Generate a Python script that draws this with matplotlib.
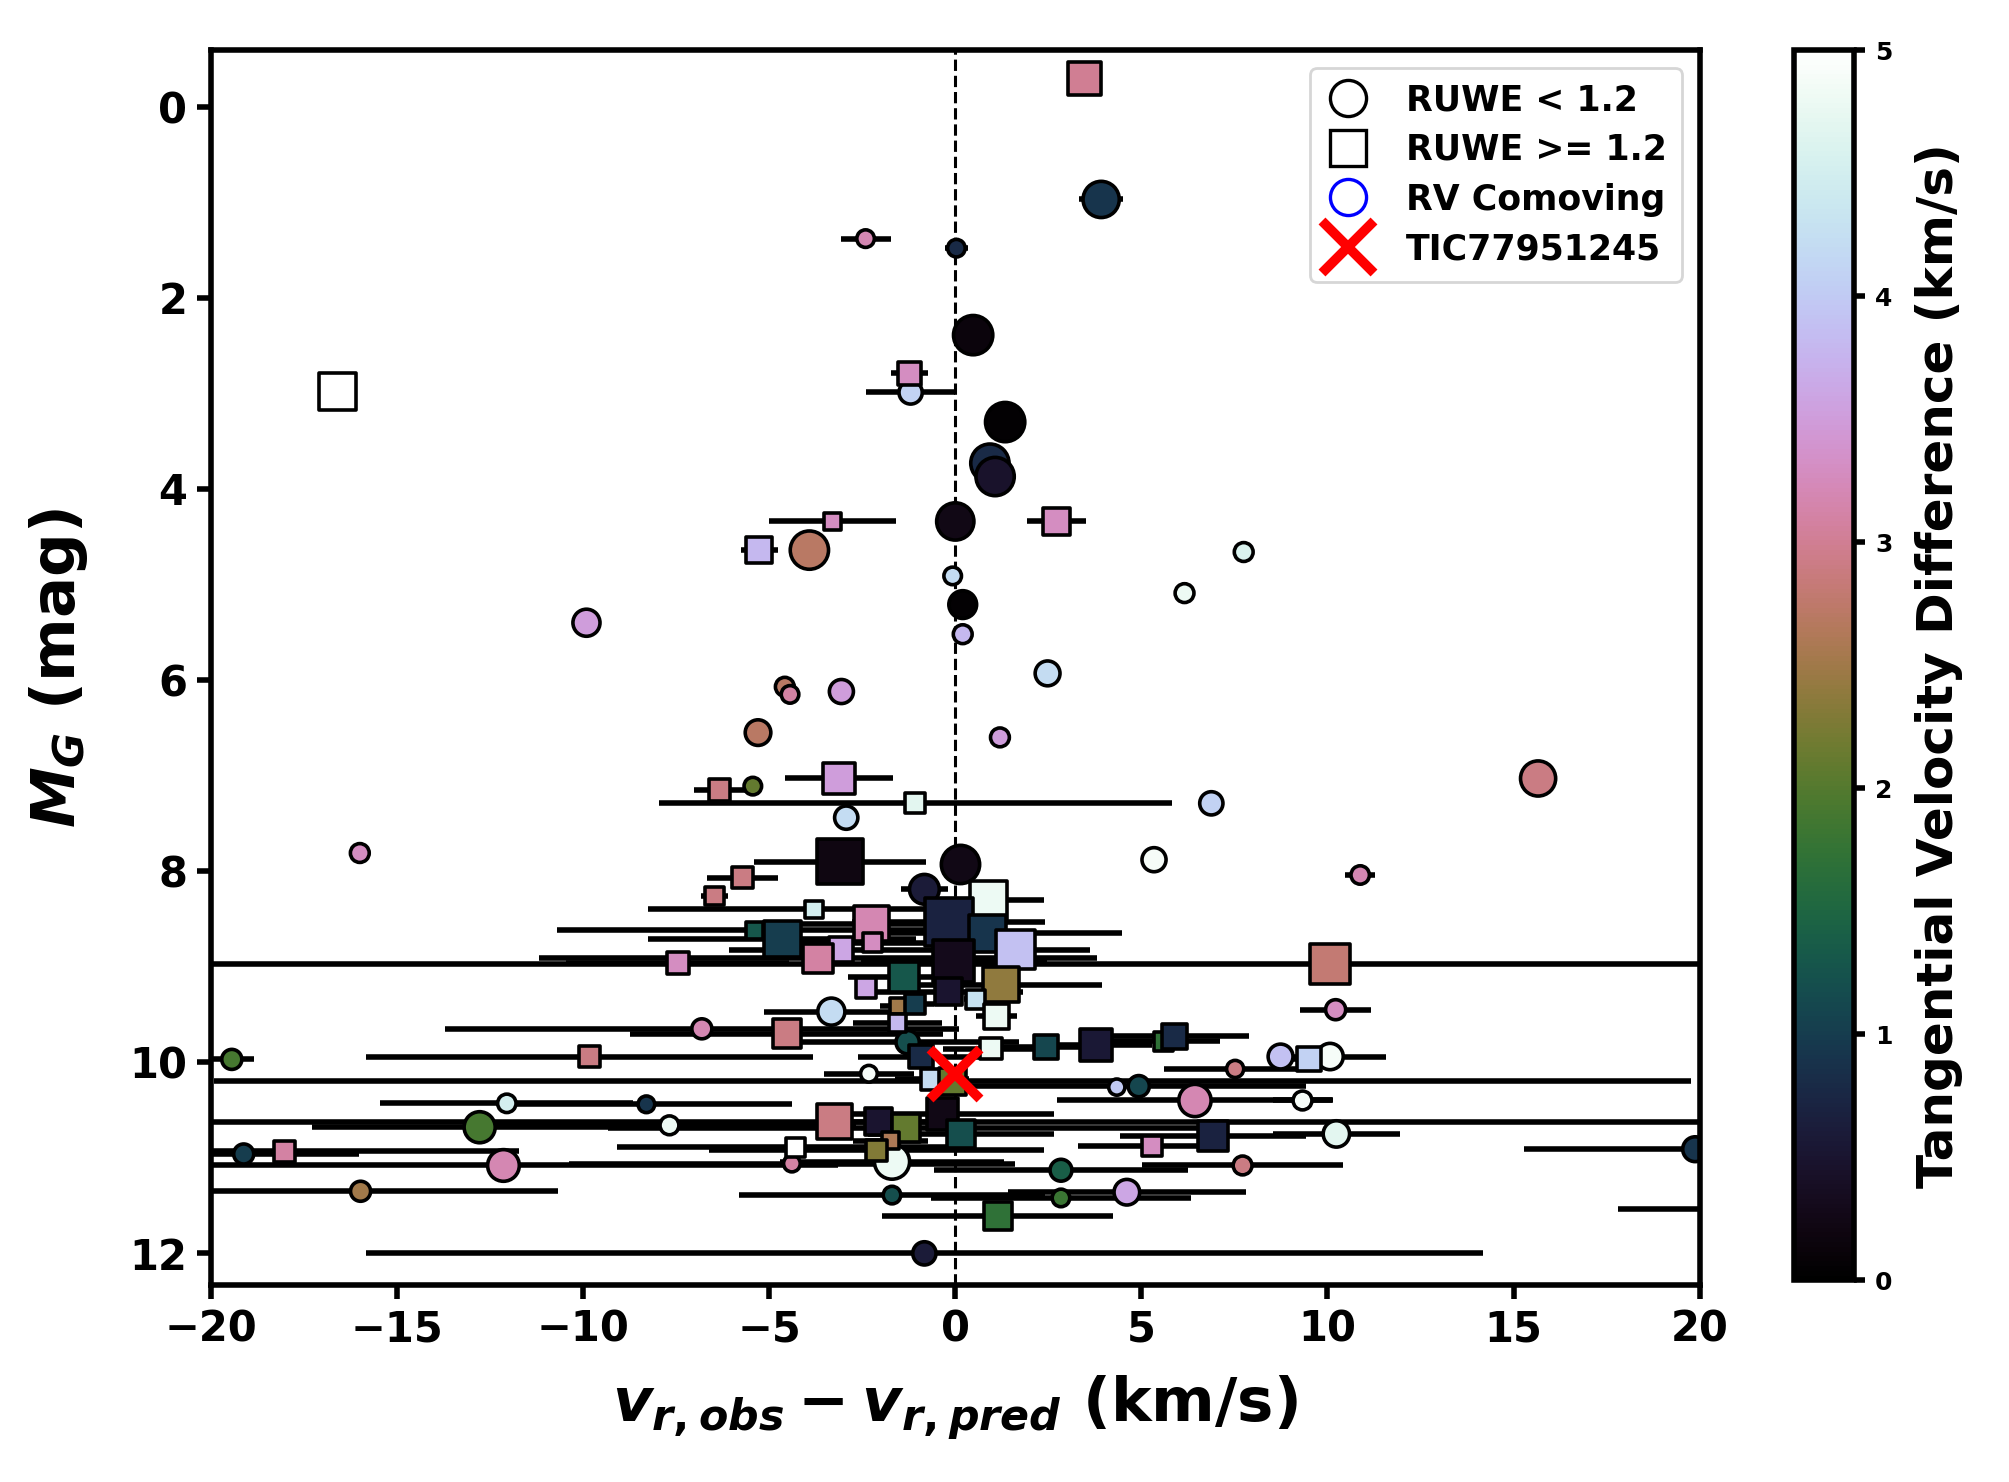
import matplotlib
matplotlib.use("Agg")
import matplotlib.pyplot as plt
from matplotlib.lines import Line2D
import numpy as np

plt.rcParams['font.family'] = ['DejaVu Sans']
plt.rcParams['font.weight'] = 'bold'
plt.rcParams['mathtext.fontset'] = 'custom'
plt.rcParams['mathtext.it'] = 'DejaVu Sans:italic:bold'
plt.rcParams['mathtext.rm'] = 'DejaVu Sans:bold'
plt.rcParams['mathtext.bf'] = 'DejaVu Sans:bold'

# stars with RUWE < 1.2 (circles)
circ_dv = [3.92, -2.41, 0.03, 0.48, -1.2, 1.34, 0.93, 1.07, 0.0, -3.92,
           7.75, -0.07, 6.16, 0.2, -9.91, 0.2, 2.48, -4.58, -4.44, -3.06,
           -5.3, 1.2, 15.66, -5.44, -2.93, 6.88, -16.0, 0.14, 5.34, 10.88,
           -0.83, -3.33, -6.81, -1.28, -2.32, -8.3, -7.68, -1.70, -4.39, 2.84,
           -1.7, 2.84, -0.83, 10.22, 8.74, 10.07, 7.52, 4.34, 4.93, 6.44,
           9.33, 10.24, 19.88, 7.72, 4.61, -19.44, -12.05, -12.78, -19.12, -12.14,
           -15.98]
circ_mg = [0.97, 1.38, 1.48, 2.39, 2.99, 3.30, 3.73, 3.87, 4.34, 4.64,
           4.66, 4.91, 5.09, 5.21, 5.40, 5.52, 5.93, 6.07, 6.15, 6.12,
           6.55, 6.60, 7.03, 7.11, 7.44, 7.29, 7.81, 7.93, 7.88, 8.04,
           8.19, 9.47, 9.65, 9.79, 10.12, 10.44, 10.66, 11.04, 11.06, 11.13,
           11.39, 11.42, 12.0, 9.45, 9.94, 9.94, 10.07, 10.26, 10.25, 10.40,
           10.40, 10.75, 10.91, 11.08, 11.36, 9.97, 10.43, 10.68, 10.96, 11.08,
           11.35]
circ_err = [0.6, 0.67, 0.3, 0.15, 1.2, 0.1, 0.15, 0.15, 0.15, 0.1,
            0.1, 0.1, 0.1, 0.1, 0.1, 0.1, 0.1, 0.1, 0.1, 0.1,
            0.1, 0.1, 0.1, 0.1, 0.1, 0.1, 0.1, 0.45, 0.2, 0.4,
            0.64, 1.8, 6.9, 3.0, 1.2, 3.9, 5.0, 3.0, 6.0, 3.4,
            4.1, 3.5, 15.0, 0.96, 0.2, 1.5, 1.9, 0.1, 4.5, 3.7,
            0.8, 1.7, 4.6, 2.7, 3.2, 0.6, 3.4, 4.5, 3.1, 9.0,
            5.3]
circ_tvd = [0.9, 3.2, 0.8, 0.15, 4.1, 0.05, 0.8, 0.45, 0.25, 2.7,
            4.6, 4.2, 4.8, 0.05, 3.5, 3.8, 4.2, 2.7, 3.1, 3.5,
            2.7, 3.5, 2.9, 2.1, 4.2, 4.1, 3.3, 0.25, 4.9, 3.2,
            0.6, 4.2, 3.2, 1.2, 4.9, 0.9, 4.8, 4.8, 3.1, 1.4,
            1.2, 1.8, 0.6, 3.3, 3.9, 4.9, 2.9, 4.0, 1.1, 3.2,
            4.9, 4.7, 0.9, 2.9, 3.6, 1.9, 4.5, 1.9, 1.0, 3.2,
            2.5]
circ_size = [170, 40, 40, 200, 70, 200, 190, 190, 180, 190,
             46, 40, 46, 100, 95, 46, 80, 46, 40, 75,
             85, 46, 160, 40, 70, 70, 46, 190, 75, 44,
             115, 95, 52, 70, 36, 36, 46, 160, 36, 62,
             40, 40, 70, 52, 80, 90, 38, 34, 58, 135,
             46, 90, 80, 46, 85, 52, 44, 125, 52, 130,
             52]

# stars with RUWE >= 1.2 (squares)
sq_dv = [3.48, -16.6, -1.24, 2.72, -3.3, -5.27, -3.13, -6.33, -1.07, -3.1,
         -5.71, -6.47, 0.89, -3.8, -0.18, -2.26, -5.4, -4.65, 0.87, 1.62,
         -3.07, -2.23, -3.69, -7.46, -0.04, 10.07, -1.37, 1.23, -2.4, -0.18,
         0.54, -1.52, -1.07, 1.1, -1.55, -4.53, -0.92, 0.96, 2.44, 3.78,
         5.6, 5.88, 9.51, -0.63, -0.08, -3.25, -2.06, -1.32, -0.34, 0.16,
         -1.74, -4.29, -2.11, 1.14, 5.29, 6.93, -9.83, -18.02, 22.0]
sq_mg = [-0.30, 2.98, 2.79, 4.34, 4.34, 4.64, 7.03, 7.15, 7.29, 7.90,
         8.07, 8.26, 8.30, 8.40, 8.53, 8.55, 8.62, 8.71, 8.65, 8.82,
         8.82, 8.75, 8.91, 8.96, 8.94, 8.97, 9.11, 9.19, 9.22, 9.26,
         9.34, 9.41, 9.39, 9.52, 9.59, 9.70, 9.94, 9.86, 9.84, 9.82,
         9.78, 9.73, 9.97, 10.18, 10.20, 10.62, 10.62, 10.69, 10.54, 10.75,
         10.82, 10.89, 10.92, 11.61, 10.88, 10.77, 9.94, 10.93, 11.54]
sq_err = [0.2, 0.1, 0.5, 0.8, 1.7, 0.5, 1.45, 0.7, 6.9, 2.3,
          0.95, 0.37, 1.5, 4.46, 2.6, 2.6, 5.3, 3.6, 3.6, 2.0,
          3.0, 2.5, 7.5, 3.0, 2.5, 35.0, 1.5, 2.7, 0.3, 2.0,
          0.3, 0.5, 0.5, 0.55, 1.2, 4.2, 1.7, 1.3, 1.5, 1.5,
          1.5, 2.0, 0.5, 1.0, 19.85, 30.0, 1.5, 8.0, 3.0, 2.5,
          1.0, 4.8, 4.5, 3.1, 2.0, 2.5, 6.0, 6.3, 4.2]
sq_tvd = [3.0, 5.0, 3.3, 3.3, 3.3, 3.8, 3.5, 2.9, 4.7, 0.2,
          2.9, 2.9, 4.8, 4.5, 0.7, 3.2, 1.3, 1.0, 0.9, 3.9,
          3.6, 3.3, 3.1, 3.3, 0.3, 2.8, 1.3, 2.4, 3.6, 0.5,
          4.3, 2.5, 1.0, 4.8, 3.8, 2.9, 0.8, 4.8, 1.1, 0.55,
          1.7, 0.8, 4.1, 4.2, 2.1, 2.9, 0.5, 2.1, 0.25, 1.2,
          2.6, 5.0, 2.3, 1.7, 3.3, 0.7, 2.9, 3.1, 2.0]
sq_size = [140, 185, 70, 92, 34, 92, 128, 58, 52, 265,
           58, 46, 185, 40, 300, 160, 40, 175, 175, 195,
           80, 46, 110, 64, 220, 210, 115, 160, 52, 92,
           46, 36, 52, 80, 40, 104, 70, 58, 75, 128,
           46, 80, 75, 58, 92, 160, 92, 104, 128, 104,
           36, 46, 58, 104, 52, 115, 58, 58, 58]

target_dv = [0.0]
target_mg = [10.12]

cmap = 'cubehelix'
fig = plt.figure(figsize=(10.045, 7.41), dpi=200)
ax = fig.add_axes([0.105, 0.133, 0.741, 0.833])
cax = fig.add_axes([0.893, 0.136, 0.030, 0.830])

ax.axvline(0, color='k', ls='--', lw=1.1, zorder=0)

ax.errorbar(circ_dv, circ_mg, xerr=circ_err, fmt='none', ecolor='k', elinewidth=2.0, zorder=1)
ax.errorbar(sq_dv, sq_mg, xerr=sq_err, fmt='none', ecolor='k', elinewidth=2.0, zorder=1)

sc = ax.scatter(circ_dv, circ_mg, c=circ_tvd, s=circ_size, marker='o', cmap=cmap,
                vmin=0, vmax=5, edgecolors='k', linewidths=1.3, zorder=2)
ax.scatter(sq_dv, sq_mg, c=sq_tvd, s=sq_size, marker='s', cmap=cmap,
           vmin=0, vmax=5, edgecolors='k', linewidths=1.3, zorder=2)
ax.plot(target_dv, target_mg, 'x', color='red', ms=18, mew=3.5, zorder=5)

ax.set_xlim(-20, 20)
ax.set_ylim(12.33, -0.59)
ax.set_xticks(np.arange(-20, 21, 5))
ax.set_yticks(np.arange(0, 13, 2))
ax.tick_params(labelsize=15, width=2, length=5)
for lab in ax.get_xticklabels() + ax.get_yticklabels():
    lab.set_fontweight('bold')
for sp in ax.spines.values():
    sp.set_linewidth(2)

ax.set_xlabel(r'$v_{r,obs} - v_{r,pred}$ (km/s)', fontsize=22, fontweight='bold', labelpad=8)
ax.set_ylabel(r'$M_G$ (mag)', fontsize=22, fontweight='bold', labelpad=14)

handles = [
    Line2D([], [], ls='none', marker='o', mfc='none', mec='k', ms=13, mew=1.2),
    Line2D([], [], ls='none', marker='s', mfc='none', mec='k', ms=13, mew=1.2),
    Line2D([], [], ls='none', marker='o', mfc='none', mec='blue', ms=13, mew=1.2),
    Line2D([], [], ls='none', marker='x', color='red', ms=19, mew=3.5),
]
labels = ['RUWE < 1.2', 'RUWE >= 1.2', 'RV Comoving', 'TIC77951245']
ax.legend(handles, labels, loc='upper right', prop={'weight': 'bold', 'size': 12.5},
          handlelength=1.3, handletextpad=1.0, borderpad=0.45, labelspacing=0.45)

cb = fig.colorbar(sc, cax=cax)
cb.set_ticks([0, 1, 2, 3, 4, 5])
cb.ax.tick_params(labelsize=9, width=2, length=4)
for lab in cb.ax.get_yticklabels():
    lab.set_fontweight('bold')
cb.outline.set_linewidth(2)
cb.set_label('Tangential Velocity Difference (km/s)', fontsize=18, fontweight='bold', labelpad=8)

fig.savefig('out.png', dpi=200)
